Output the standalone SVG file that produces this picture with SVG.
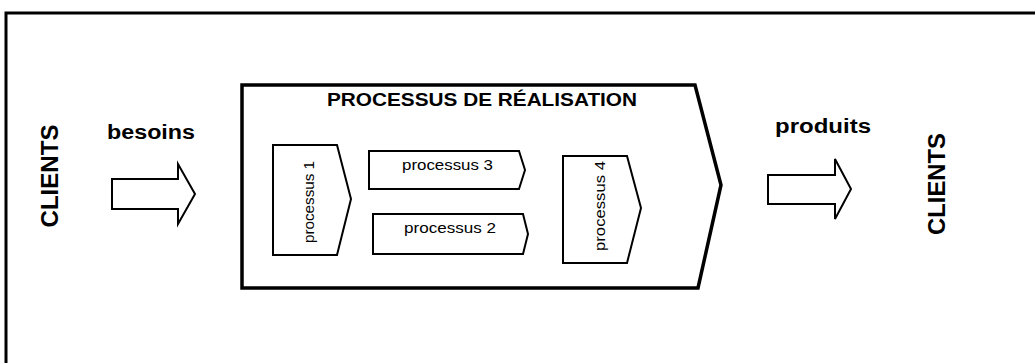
<svg xmlns="http://www.w3.org/2000/svg" width="1035" height="363" viewBox="0 0 1035 363">
<style>
.frame{fill:none;stroke:#000;stroke-width:3}
.main{fill:#fff;stroke:#000;stroke-width:3.5;stroke-linejoin:miter}
.proc{fill:#fff;stroke:#000;stroke-width:2}
.arrow{fill:#fff;stroke:#000;stroke-width:2;stroke-linejoin:miter}
.b{font-family:"Liberation Sans",Arial,sans-serif;font-weight:bold;fill:#000}
.n{font-family:"Liberation Sans",Arial,sans-serif;font-size:15px;fill:#000}
</style>
<rect width="1035" height="363" fill="#fff"/>
<path class="frame" d="M6,363 L6,13 L1036,13"/>
<g id="clients-left">
<text class="b" font-size="24" text-anchor="middle" textLength="103" lengthAdjust="spacingAndGlyphs" transform="translate(58,176) rotate(-90)">CLIENTS</text>
</g>
<g id="besoins">
<text class="b" font-size="20" x="107" y="139" textLength="88" lengthAdjust="spacingAndGlyphs">besoins</text>
</g>
<g id="realisation">
<polygon class="main" points="242,85 695,85 721,185 698,288 242,288"/>
<text class="b" font-size="19" x="327" y="106" textLength="310" lengthAdjust="spacingAndGlyphs">PROCESSUS DE RÉALISATION</text>
</g>
<g id="processus1">
<polygon class="proc" points="273,145 337,145 351,199 337,255 273,255"/>
<text class="n" text-anchor="middle" textLength="82" lengthAdjust="spacingAndGlyphs" transform="translate(314,202) rotate(-90)">processus 1</text>
</g>
<g id="processus3">
<polygon class="proc" points="369,151 519,151 525,170 519,189 369,189"/>
<text class="n" x="402" y="170" textLength="91" lengthAdjust="spacingAndGlyphs">processus 3</text>
</g>
<g id="processus2">
<polygon class="proc" points="373,214 523,214 528,234 523,254 373,254"/>
<text class="n" x="404" y="233" textLength="92" lengthAdjust="spacingAndGlyphs">processus 2</text>
</g>
<g id="processus4">
<polygon class="proc" points="563,156 627,156 641,208 627,263 563,263"/>
<text class="n" text-anchor="middle" textLength="90" lengthAdjust="spacingAndGlyphs" transform="translate(605,206) rotate(-90)">processus 4</text>
</g>
<g id="produits">
<text class="b" font-size="20" x="775" y="133" textLength="96" lengthAdjust="spacingAndGlyphs">produits</text>
</g>
<g id="clients-right">
<text class="b" font-size="24" text-anchor="middle" textLength="102" lengthAdjust="spacingAndGlyphs" transform="translate(945,184) rotate(-90)">CLIENTS</text>
</g>
<g id="connectors">
<polygon class="arrow" points="112,179 178,179 178,164 195,194 178,224 178,209 112,209"/>
<polygon class="arrow" points="768,175 835,175 835,159 851,189 835,219 835,204 768,204"/>
</g>
</svg>
